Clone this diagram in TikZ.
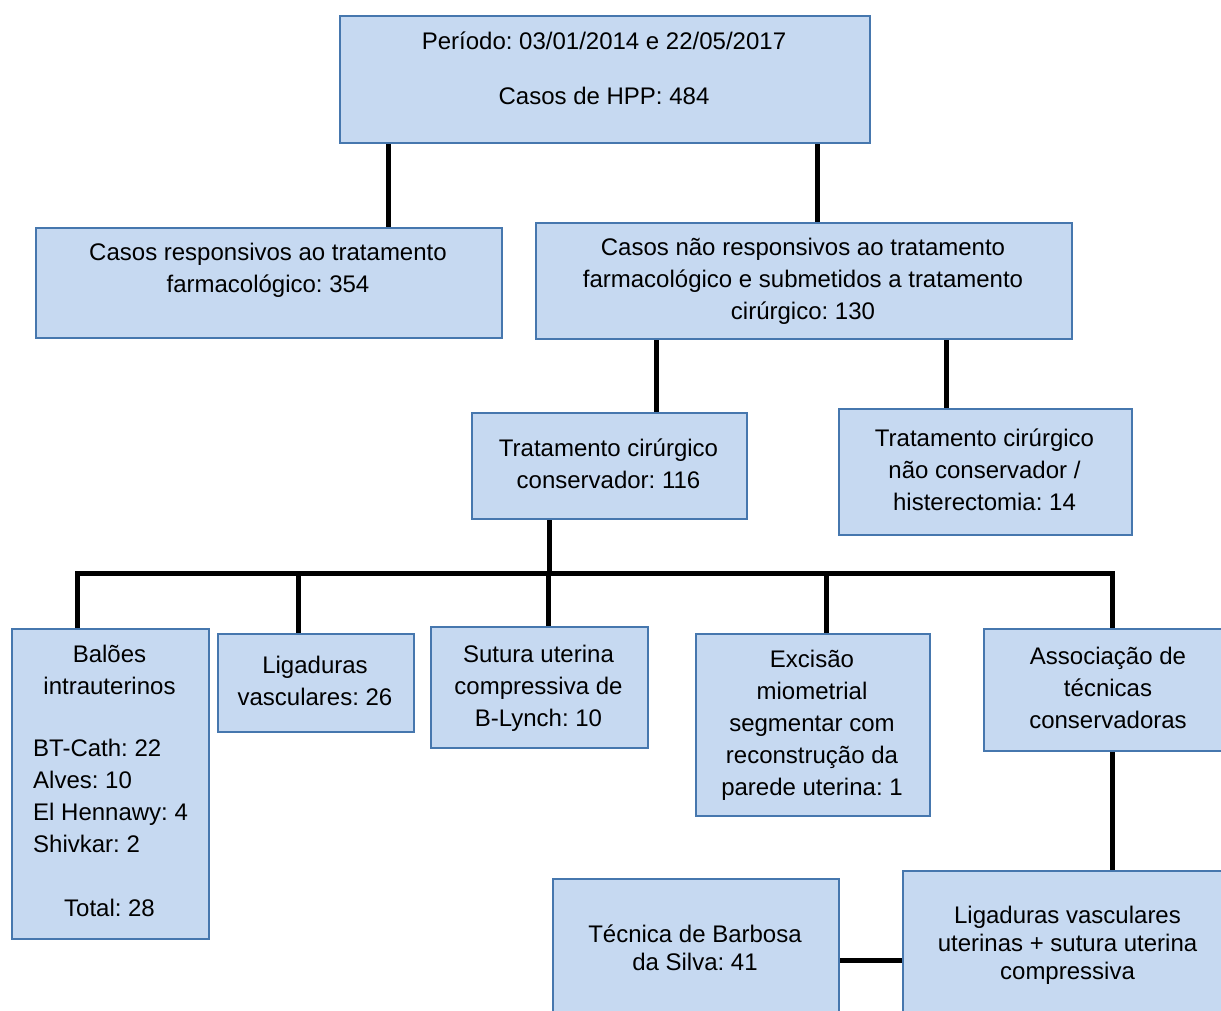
\documentclass[tikz,border=0pt]{standalone}
\usepackage{fontspec}
\setmainfont{Liberation Sans}
\usetikzlibrary{calc}
\frenchspacing

\definecolor{boxfill}{HTML}{C6D9F1}
\definecolor{boxline}{HTML}{4677AE}

\tikzset{
  box/.style={draw=boxline, fill=boxfill, line width=2.3pt, inner sep=0pt, rectangle},
  txt/.style={inner sep=0pt, align=center, anchor=north, font=\fontsize{24}{32}\selectfont},
  txttight/.style={txt, font=\fontsize{24}{28}\selectfont},
  conn/.style={draw=black, line width=5pt},
}

% a box given by its top-left and bottom-right corners
\newcommand\panel[5]{%
  \node[box, anchor=north west, minimum width={#4-#2}, minimum height={#5-#3}] (#1) at (#2,#3) {};}
% fixed-height strut so that the first line of every label sits the same way
\newcommand\lstrut{\rule{0pt}{26pt}}

\begin{document}
\begin{tikzpicture}[x=1pt, y=-1pt]
  \fill[white] (0,0) rectangle (1221,1010);
  \useasboundingbox (0,0) rectangle (1221,1010);

  % boxes
  \panel{top}{339}{15}{869}{142}
  \panel{resp}{35}{227}{501}{337}
  \panel{nresp}{535}{222}{1071}{338}
  \panel{cons}{471}{412}{746}{518}
  \panel{ncons}{838}{408}{1131}{534}
  \panel{bal}{11}{628}{208}{938}
  \panel{lig}{217}{633}{413}{731}
  \panel{sut}{430}{626}{647}{747}
  \panel{exc}{695}{633}{929}{815}
  \panel{assoc}{983}{628}{1233}{750}
  \panel{tec}{552}{878}{838}{1030}
  \panel{ligut}{902}{870}{1233}{1030}

  % labels
  \node[txt] (t-top) at (604,23) {\lstrut Período: 03/01/2014 e 22/05/2017\\[23pt]Casos de HPP: 484};
  \node[txt] (t-resp) at (268,234) {\lstrut Casos responsivos ao tratamento\\farmacológico: 354};
  \node[txt] (t-nresp) at (803,229) {\lstrut Casos não responsivos ao tratamento\\farmacológico e submetidos a tratamento\\cirúrgico: 130};
  \node[txt] (t-cons) at (608.5,430) {\lstrut Tratamento cirúrgico\\conservador: 116};
  \node[txt] (t-ncons) at (984.5,420) {\lstrut Tratamento cirúrgico\\não conservador /\\histerectomia: 14};
  \node[txt] (t-bal) at (109.5,636) {\lstrut Balões\\intrauterinos};
  \node[txt, align=left, anchor=north west] (t-ballist) at (33,730) {\lstrut BT-Cath: 22\\Alves: 10\\El Hennawy: 4\\Shivkar: 2};
  \node[txt] (t-baltot) at (109.5,890) {\lstrut Total: 28};
  \node[txt] (t-lig) at (315,647) {\lstrut Ligaduras\\vasculares: 26};
  \node[txt] (t-sut) at (538.5,636) {\lstrut Sutura uterina\\compressiva de\\B-Lynch: 10};
  \node[txt] (t-exc) at (812,641) {\lstrut Excisão\\miometrial\\segmentar com\\reconstrução da\\parede uterina: 1};
  \node[txt] (t-assoc) at (1108,638) {\lstrut Associação de\\técnicas\\conservadoras};
  \node[txttight] (t-tec) at (695,916) {\lstrut Técnica de Barbosa\\da Silva: 41};
  \node[txttight] (t-ligut) at (1067.5,897) {\lstrut Ligaduras vasculares\\uterinas + sutura uterina\\compressiva};

  % connectors
  \draw[conn] (388,0 |- top.south) -- (388,0 |- resp.north);
  \draw[conn] (817,0 |- top.south) -- (817,0 |- nresp.north);
  \draw[conn] (656,0 |- nresp.south) -- (656,0 |- cons.north);
  \draw[conn] (946,0 |- nresp.south) -- (946,0 |- ncons.north);

  \coordinate (bus) at (549,573);
  \draw[conn] (bus |- cons.south) -- (bus);
  \draw[conn, line join=miter] (77,0 |- bal.north) |- (bus) -| (1112,0 |- assoc.north);
  \draw[conn] (298,573) -- (298,0 |- lig.north);
  \draw[conn] (548,573) -- (548,0 |- sut.north);
  \draw[conn] (826,573) -- (826,0 |- exc.north);

  \draw[conn] (1112,0 |- assoc.south) -- (1112,0 |- ligut.north);
  \draw[conn] (tec.east |- 0,960) -- (ligut.west |- 0,960);
\end{tikzpicture}
\end{document}
